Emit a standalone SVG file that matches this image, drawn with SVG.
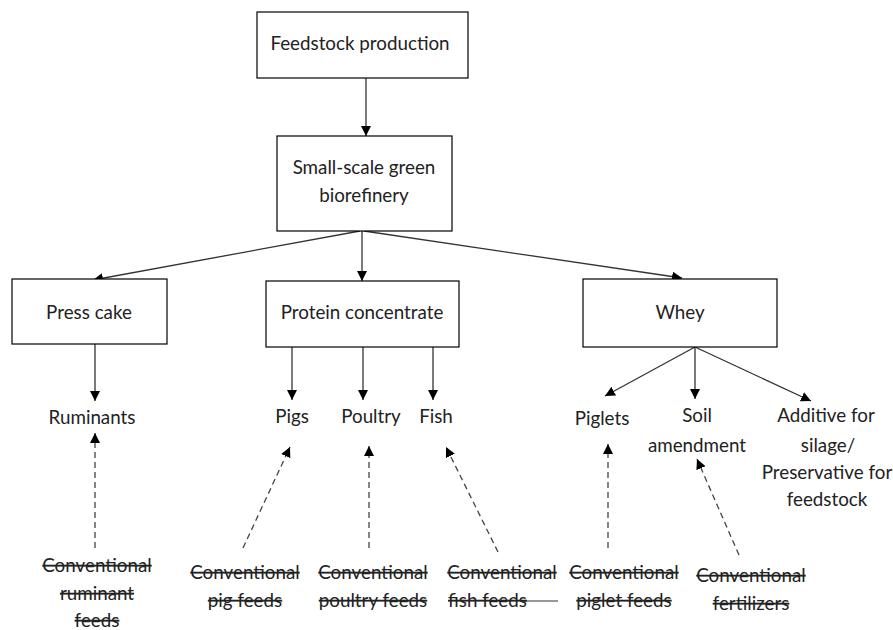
<svg xmlns="http://www.w3.org/2000/svg" width="893" height="630" viewBox="0 0 893 630">
<style>
.box{fill:#fff;stroke:#000;stroke-width:1.2}
text{font-family:Lato,"Liberation Sans",sans-serif;font-size:18.8px;fill:#222;text-anchor:middle}
.s{text-decoration:line-through}
.c{fill:none;stroke:#333;stroke-width:1.3}
.d{fill:none;stroke:#444;stroke-width:1.3;stroke-dasharray:6 4}
</style>
<defs>
<marker id="ah" viewBox="0 0 10 10" refX="10" refY="5" markerWidth="10" markerHeight="10" markerUnits="userSpaceOnUse" orient="auto">
<path d="M0,0 L10,5 L0,10 z" fill="#000"/>
</marker>
</defs>
<rect width="893" height="630" fill="#fff"/>
<g id="connectors">
<line class="c" x1="366" y1="78" x2="366" y2="136" marker-end="url(#ah)"/>
<line class="c" x1="360" y1="231" x2="93" y2="280" marker-end="url(#ah)"/>
<line class="c" x1="362" y1="231" x2="362" y2="281" marker-end="url(#ah)"/>
<line class="c" x1="364" y1="231" x2="682" y2="278" marker-end="url(#ah)"/>
<line class="c" x1="95" y1="344" x2="95" y2="401" marker-end="url(#ah)"/>
<line class="c" x1="292" y1="347" x2="292" y2="400" marker-end="url(#ah)"/>
<line class="c" x1="363" y1="347" x2="363" y2="400" marker-end="url(#ah)"/>
<line class="c" x1="433" y1="347" x2="433" y2="400" marker-end="url(#ah)"/>
<line class="c" x1="695" y1="347" x2="605" y2="396" marker-end="url(#ah)"/>
<line class="c" x1="695" y1="347" x2="695" y2="399" marker-end="url(#ah)"/>
<line class="c" x1="695" y1="347" x2="811" y2="401" marker-end="url(#ah)"/>
<line class="d" x1="95" y1="548" x2="95" y2="433" marker-end="url(#ah)"/>
<line class="d" x1="243" y1="548" x2="290" y2="447" marker-end="url(#ah)"/>
<line class="d" x1="369" y1="548" x2="369" y2="446" marker-end="url(#ah)"/>
<line class="d" x1="498" y1="552" x2="446" y2="447" marker-end="url(#ah)"/>
<line class="d" x1="608" y1="548" x2="608" y2="444" marker-end="url(#ah)"/>
<line class="d" x1="739" y1="555" x2="697" y2="459" marker-end="url(#ah)"/>
<line x1="520" y1="601" x2="558" y2="601" stroke="#333" stroke-width="1.2"/>
</g>
<g id="feedstock-production">
<rect class="box" x="257" y="12" width="211" height="66"/>
<text x="360" y="50">Feedstock production</text>
</g>
<g id="biorefinery">
<rect class="box" x="277" y="136" width="175" height="95"/>
<text x="364" y="174">Small-scale green</text>
<text x="364" y="202">biorefinery</text>
</g>
<g id="press-cake">
<rect class="box" x="12" y="279" width="155" height="65"/>
<text x="89" y="319">Press cake</text>
</g>
<g id="protein-concentrate">
<rect class="box" x="266" y="281" width="193" height="66"/>
<text x="362" y="319">Protein concentrate</text>
</g>
<g id="whey">
<rect class="box" x="583" y="279" width="194" height="68"/>
<text x="680" y="319">Whey</text>
</g>
<g id="ruminants"><text x="92" y="424">Ruminants</text></g>
<g id="pigs"><text x="292" y="423">Pigs</text></g>
<g id="poultry"><text x="371" y="423">Poultry</text></g>
<g id="fish"><text x="436" y="423">Fish</text></g>
<g id="piglets"><text x="602" y="425">Piglets</text></g>
<g id="soil-amendment"><text x="697" y="422">Soil</text><text x="697" y="452">amendment</text></g>
<g id="additive"><text x="826" y="422">Additive for</text><text x="828" y="452">silage/</text><text x="827" y="479">Preservative for</text><text x="827" y="506">feedstock</text></g>
<g id="conv-ruminant"><text class="s" x="97" y="572">Conventional</text><text class="s" x="97" y="600">ruminant</text><text class="s" x="97" y="627">feeds</text></g>
<g id="conv-pig"><text class="s" x="245" y="579">Conventional</text><text class="s" x="245" y="607">pig feeds</text></g>
<g id="conv-poultry"><text class="s" x="373" y="579">Conventional</text><text class="s" x="373" y="607">poultry feeds</text></g>
<g id="conv-fish"><text class="s" x="502" y="579">Conventional</text><text class="s" x="448" y="607" style="text-anchor:start">fish feeds</text></g>
<g id="conv-piglet"><text class="s" x="624" y="579">Conventional</text><text class="s" x="624" y="607">piglet feeds</text></g>
<g id="conv-fertilizers"><text class="s" x="751" y="582">Conventional</text><text class="s" x="751" y="610">fertilizers</text></g>
</svg>
